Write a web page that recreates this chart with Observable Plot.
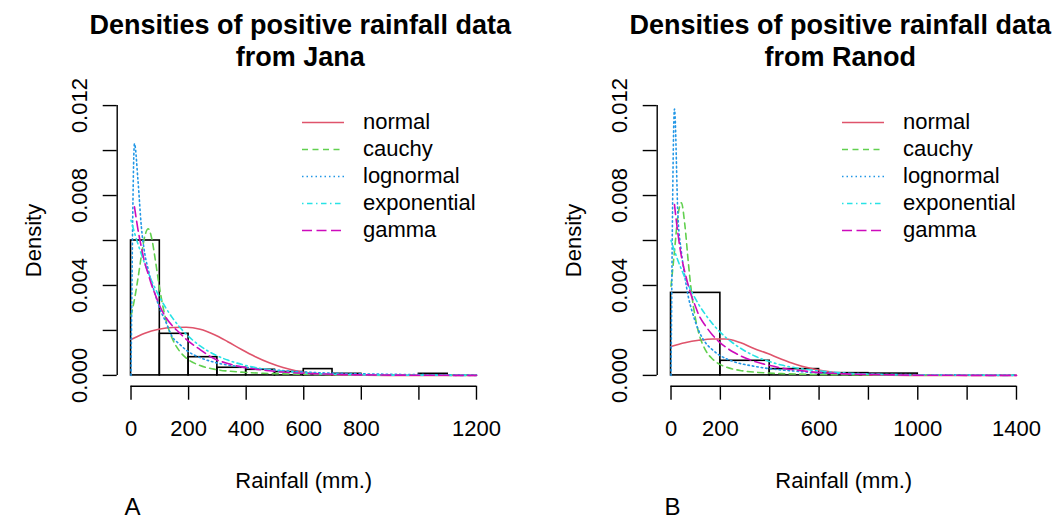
<!DOCTYPE html>
<html>
<head>
<meta charset="utf-8">
<script src="https://cdn.jsdelivr.net/npm/d3@7"></script>
<script src="https://cdn.jsdelivr.net/npm/@observablehq/plot@0.6"></script>
<style>
  html, body { margin: 0; padding: 0; background: #fff; }
  #wrap { position: relative; width: 1064px; height: 519px; overflow: hidden; background: #fff;
          font-family: "Liberation Sans", Arial, Helvetica, sans-serif; color: #000; }
  .title { position: absolute; top: 9px; width: 600px; text-align: center; font-weight: bold;
           font-size: 27px; line-height: 32px; white-space: nowrap; }
  .tag { position: absolute; top: 496px; height: 22px; font-size: 24px; line-height: 22px; }
  .legend { position: absolute; top: 106.5px; font-size: 22px; }
  .legend .row { display: flex; align-items: flex-start; height: 27.1px; }
  .legend .row span { margin-left: 19px; line-height: 27px; margin-top: 1.5px; }
  .panel { position: absolute; top: 76px; }
</style>
</head>
<body>
<div id="wrap"></div>
<script>
// ---------- data ----------
const distNames = ["normal", "cauchy", "lognormal", "exponential", "gamma"];
const distColors = ["#DF536B", "#61D04F", "#2297E6", "#28E2E5", "#CD0BBC"];
const distDash = ["none", "6,4.5", "1.5,3", "1.5,3.5,5.5,3.5", "10,4.5"];

const titleLine1 = "Densities of positive rainfall data";
const janaTitle2 = "from Jana";
const ranodTitle2 = "from Ranod";
const xAxisLabel = "Rainfall (mm.)";
const yAxisLabel = "Density";

const yTicks = [0, 0.002, 0.004, 0.006, 0.008, 0.010, 0.012];
const yTickLabels = ["0.000", "", "0.004", "", "0.008", "", "0.012"];

// Jana
const janaXTicks = [0, 200, 400, 600, 800, 1000, 1200];
const janaXTickLabels = ["0", "200", "400", "600", "800", "", "1200"];
const janaBreaks = [0, 100, 200, 300, 400, 500, 600, 700, 800, 900, 1000, 1100];
const janaHist = [0.006, 0.00185, 0.00081, 0.00034, 0.00025, 0.00015, 0.00028, 0.00007, 0, 0, 0.00007];
const janaNormal = [[0,.0016],[48,.00188],[96,.00205],[144,.00213],[192,.00214],[240,.00205],[288,.00182],[336,.0015],[384,.00115],[432,.00083],[480,.00056],[528,.00035],[576,.0002],[624,.0001],[672,.00005],[720,.00002],[816,.000004],[960,0],[1200,0]];
const janaCauchy = [[0,.00265],[12,.00338],[24,.0043],[36,.00533],[48,.0062],[60,.00652],[72,.00609],[84,.00517],[96,.00414],[108,.00325],[120,.00254],[144,.00162],[168,.00109],[192,.00077],[240,.00044],[288,.00028],[384,.000144],[480,.000086],[576,.000058],[768,.000031],[960,.000019],[1200,.000012]];
const janaLognormal = [[0,0],[12,.0103],[24,.0087],[36,.0066],[48,.0054],[60,.0047],[72,.0041],[84,.0036],[96,.0031],[120,.0024],[144,.0017],[168,.0014],[192,.00112],[240,.00079],[288,.00059],[336,.00046],[384,.00038],[480,.00026],[576,.00017],[672,.00011],[768,.00008],[960,.00004],[1200,.00002]];
const janaExponential = [[0,.0069],[12,.00635],[24,.00585],[36,.00539],[48,.00496],[60,.00457],[72,.0042],[84,.00387],[96,.00356],[120,.00302],[144,.00256],[168,.00216],[192,.00183],[240,.00131],[288,.00094],[336,.00068],[384,.00049],[480,.00025],[576,.00013],[672,.000067],[768,.000035],[960,.000009],[1200,.000002]];
const janaGamma = [[12,.0075],[24,.0065],[36,.0057],[48,.005],[60,.0045],[72,.004],[84,.0036],[96,.0032],[120,.0026],[144,.0022],[168,.0019],[192,.0016],[240,.00115],[288,.00075],[336,.00053],[384,.00038],[480,.00021],[576,.00011],[672,.00006],[768,.00003],[960,.00001],[1200,.000002]];

// Ranod
const ranodXTicks = [0, 200, 400, 600, 800, 1000, 1200, 1400];
const ranodXTickLabels = ["0", "200", "", "600", "", "1000", "", "1400"];
const ranodBreaks = [0, 200, 400, 600, 800, 1000];
const ranodHist = [0.00367, 0.00065, 0.00028, 0.0001, 0.00008];
const ranodNormal = [[0,.00129],[56,.00145],[112,.00156],[168,.00162],[224,.00162],[280,.00146],[336,.0012],[392,.00097],[448,.00072],[504,.0005],[560,.00033],[616,.0002],[672,.00011],[728,.00006],[812,.00002],[1008,0],[1400,0]];
const ranodCauchy = [[0,.00397],[14,.00552],[28,.0071],[42,.00768],[56,.0067],[70,.00504],[84,.0036],[98,.00259],[112,.0019],[140,.00112],[168,.00073],[196,.0005],[224,.00037],[252,.00028],[280,.00022],[336,.000147],[392,.000105],[448,.000078],[504,.00006],[560,.000048],[616,.000039],[700,.000032],[812,.000022],[1008,.000014],[1204,.00001],[1400,.000007]];
const ranodLognormal = [[0,0],[14,.01185],[28,.0071],[42,.0055],[56,.0044],[70,.0035],[84,.0029],[98,.0024],[112,.002],[140,.00145],[168,.00114],[196,.0009],[224,.00074],[252,.00062],[280,.00053],[336,.00041],[392,.00031],[448,.00024],[504,.00019],[560,.00014],[616,.00011],[700,.00008],[812,.00005],[1008,.00003],[1204,.00002],[1400,.00001]];
const ranodExponential = [[0,.006],[14,.00554],[28,.00511],[42,.00472],[56,.00436],[70,.00402],[84,.00371],[98,.00343],[112,.00316],[140,.0027],[168,.0023],[196,.00196],[224,.00167],[252,.00143],[280,.00122],[336,.00088],[392,.00064],[448,.00046],[504,.00034],[560,.00025],[616,.00018],[700,.00011],[812,.00006],[1008,.00002],[1204,.000006],[1400,.000002]];
const ranodGamma = [[14,.0076],[28,.0063],[42,.0053],[56,.0046],[70,.004],[84,.0035],[98,.0031],[112,.0027],[140,.0022],[168,.0018],[196,.00148],[224,.00124],[252,.00104],[280,.00088],[336,.00063],[392,.00046],[448,.00033],[504,.00024],[560,.00017],[616,.00012],[700,.00007],[812,.00004],[1008,.00001],[1204,.000003],[1400,.000001]];

// ---------- drawing ----------
const FONT = '"Liberation Sans", Arial, Helvetica, sans-serif';
const wrap = document.getElementById("wrap");

function makePanel(cfg) {
  const xMax = cfg.xTicks[cfg.xTicks.length - 1];
  const yMax = yTicks[yTicks.length - 1];
  const bins = cfg.hist.map((d, i) => ({lo: cfg.breaks[i], hi: cfg.breaks[i + 1], d}));
  const xLab = new Map(cfg.xTicks.map((t, i) => [t, cfg.xTickLabels[i]]));
  const yLabData = yTicks.map((v, i) => ({v, t: yTickLabels[i]})).filter(d => d.t !== "");
  const lw = 1.4;
  const cw = 1.6;

  const curveMarks = cfg.curves.map((pts, i) =>
    Plot.line(pts, {x: d => d[0], y: d => d[1], stroke: distColors[i],
      strokeDasharray: distDash[i], strokeWidth: cw, curve: "monotone-x"}));

  const svg = Plot.plot({
    width: cfg.width,
    height: 419,
    marginLeft: 116.7,
    marginRight: cfg.width - 489.8,
    marginTop: 18.3,
    marginBottom: 109.3,
    x: {domain: [-0.04 * xMax, 1.04 * xMax]},
    y: {domain: [-0.04 * yMax, 1.04 * yMax]},
    style: {fontFamily: FONT, fontSize: "22px", color: "#000", background: "transparent", overflow: "visible"},
    marks: [
      Plot.rect(bins, {x1: "lo", x2: "hi", y1: 0, y2: "d", fill: "none", stroke: "#000", strokeWidth: 1.6}),
      ...curveMarks,
      Plot.ruleY([-0.04 * yMax], {x1: 0, x2: xMax, stroke: "#000", strokeWidth: lw}),
      Plot.ruleX([-0.04 * xMax], {y1: 0, y2: yMax, stroke: "#000", strokeWidth: lw}),
      Plot.axisX({ticks: cfg.xTicks, tickSize: 14, tickPadding: 20, tickFormat: d => xLab.get(d), label: null, strokeWidth: lw}),
      Plot.axisY({ticks: yTicks, tickSize: 14, tickFormat: () => "", label: null, strokeWidth: lw}),
      Plot.text(yLabData, {y: "v", text: "t", frameAnchor: "left", rotate: -90, dx: -37.5,
        textAnchor: "middle", lineAnchor: "middle"}),
      Plot.text([yAxisLabel], {frameAnchor: "left", rotate: -90, dx: -83.7, textAnchor: "middle", lineAnchor: "middle"}),
      Plot.text([xAxisLabel], {frameAnchor: "bottom", dy: 94.3, textAnchor: "middle", lineAnchor: "middle"})
    ]
  });
  const holder = document.createElement("div");
  holder.className = "panel";
  holder.style.left = cfg.left + "px";
  holder.appendChild(svg);
  wrap.appendChild(holder);

  const center = cfg.left + (116.7 + 489.8) / 2 - 3;
  const title = document.createElement("div");
  title.className = "title";
  title.style.left = (center - 300) + "px";
  title.innerHTML = titleLine1 + "<br>" + cfg.title2;
  wrap.appendChild(title);

  const tag = document.createElement("div");
  tag.className = "tag";
  tag.style.left = (cfg.left + 124.5) + "px";
  tag.textContent = cfg.tag;
  wrap.appendChild(tag);

  const legend = document.createElement("div");
  legend.className = "legend";
  legend.style.left = (cfg.left + 302) + "px";
  distNames.forEach((name, i) => {
    const row = document.createElement("div");
    row.className = "row";
    row.innerHTML = `<svg width="42" height="27" style="display:block"><line x1="0" x2="42" y1="15.4" y2="15.4" stroke="${distColors[i]}" stroke-width="1.5" ${distDash[i] === "none" ? "" : `stroke-dasharray="${distDash[i]}"`}/></svg><span>${name}</span>`;
    legend.appendChild(row);
  });
  wrap.appendChild(legend);
}

makePanel({left: 0, width: 532, title2: janaTitle2, tag: "A", xTicks: janaXTicks, xTickLabels: janaXTickLabels,
  breaks: janaBreaks, hist: janaHist, curves: [janaNormal, janaCauchy, janaLognormal, janaExponential, janaGamma]});
makePanel({left: 540, width: 524, title2: ranodTitle2, tag: "B", xTicks: ranodXTicks, xTickLabels: ranodXTickLabels,
  breaks: ranodBreaks, hist: ranodHist, curves: [ranodNormal, ranodCauchy, ranodLognormal, ranodExponential, ranodGamma]});
</script>
</body>
</html>
